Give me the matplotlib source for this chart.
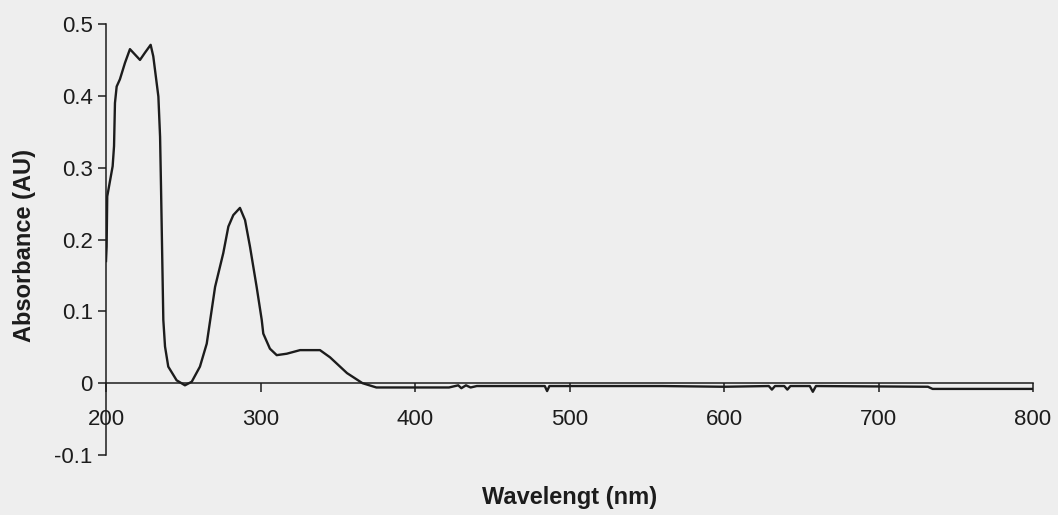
# UV-Vis absorbance spectrum, redrawn from the scanned figure
import matplotlib
matplotlib.use("Agg")
import matplotlib.pyplot as plt

# values
wavelength = [200, 200.4, 200.8, 204.3, 205.2, 205.8, 206.9, 209, 212.3, 215.5,
              222, 225.2, 228.9, 230.6, 233.9, 235, 235.6, 237.1, 238.2, 240.3,
              245.7, 251.1, 255.5, 260.8, 265.2, 270.6, 275.9, 279.2, 282.4, 286.7,
              290, 293.2, 297.5, 300.8, 301.8, 306.1, 310.5, 317, 325.6, 338.5,
              345, 356, 366, 375, 400, 422, 428, 430, 433, 436, 440, 484, 485.5,
              487, 560, 600, 629, 631, 633, 639, 641, 643, 655.5, 657.5, 659.5,
              732, 735, 800]
absorbance = [0.17, 0.19, 0.26, 0.302, 0.33, 0.39, 0.413, 0.423, 0.446, 0.465,
              0.45, 0.46, 0.471, 0.455, 0.399, 0.343, 0.274, 0.088, 0.051, 0.023,
              0.004, -0.003, 0.002, 0.023, 0.055, 0.134, 0.181, 0.218, 0.234, 0.244,
              0.227, 0.19, 0.134, 0.088, 0.069, 0.048, 0.039, 0.041, 0.046, 0.046,
              0.036, 0.014, 0.0, -0.006, -0.006, -0.006, -0.003, -0.007, -0.003, -0.006, -0.004, -0.004, -0.011,
              -0.004, -0.004, -0.005, -0.004, -0.009, -0.004, -0.004, -0.009, -0.004, -0.004, -0.012, -0.004,
              -0.005, -0.008, -0.008]

xticks = [200, 300, 400, 500, 600, 700, 800]
yticks = [-0.1, 0, 0.1, 0.2, 0.3, 0.4, 0.5]
ytick_labels = ["-0.1", "0", "0.1", "0.2", "0.3", "0.4", "0.5"]

bg = "#eeeeee"
ink = "#1c1c1c"

plt.rcParams["font.family"] = ["Liberation Sans", "DejaVu Sans"]

fig = plt.figure(figsize=(10.58, 5.15), dpi=100, facecolor=bg)
ax = fig.add_axes([106 / 1058, 1 - 455 / 515, 927 / 1058, 431 / 515])
ax.set_facecolor(bg)

ax.plot(wavelength, absorbance, color=ink, lw=1.7)

ax.set_xlim(200, 800)
ax.set_ylim(-0.1, 0.5)

# x axis sits on y = 0, no box
ax.spines["top"].set_visible(False)
ax.spines["right"].set_visible(False)
ax.spines["bottom"].set_position(("data", 0))
for s in ("left", "bottom"):
    ax.spines[s].set_color(ink)
    ax.spines[s].set_linewidth(1.1)

ax.set_xticks(xticks)
ax.set_xticklabels([str(t) for t in xticks])
ax.set_yticks(yticks)
ax.set_yticklabels(ytick_labels)
ax.tick_params(axis="x", direction="out", length=6.5, width=1.1, pad=12,
               labelsize=16, colors=ink)
ax.tick_params(axis="y", direction="out", length=5.5, width=1.1, pad=4,
               labelsize=16, colors=ink)

ax.set_xlabel("Wavelengt (nm)", fontsize=17, fontweight="bold", color=ink)
ax.set_ylabel("Absorbance (AU)", fontsize=17, fontweight="bold", color=ink)
ax.xaxis.set_label_coords(0.5, -0.072)
ax.yaxis.set_label_coords(-0.076, 0.485)

fig.savefig("out.png", dpi=100, facecolor=bg)
